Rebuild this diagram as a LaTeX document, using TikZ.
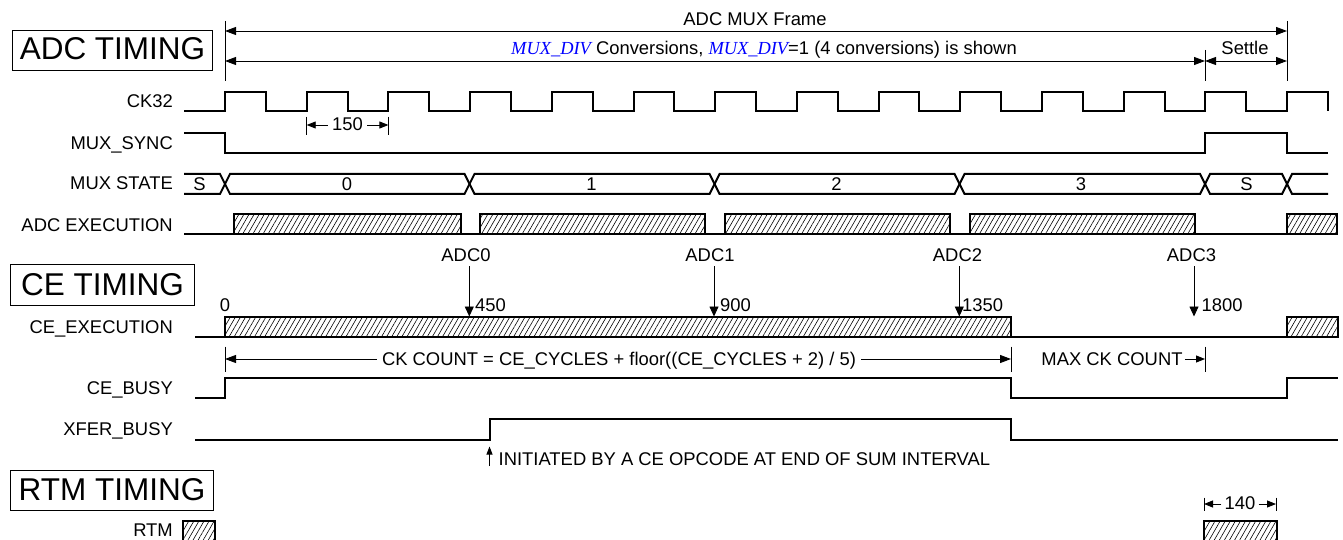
\documentclass[tikz,border=0pt]{standalone}
\usepackage{fontspec}
\setmainfont{Liberation Sans}
\newfontfamily\muxfont{Liberation Serif}
\usetikzlibrary{arrows.meta,patterns.meta}
\newcommand{\muxdiv}{{\muxfont\itshape\color{blue}MUX\_DIV}}
\begin{document}
\begin{tikzpicture}[x=1pt,y=-1pt,
  font=\fontsize{18.4}{21}\selectfont,
  sig/.style={line width=2pt,line join=miter},
  thinline/.style={line width=0.9pt},
  hatch/.style={sig,pattern={Lines[angle=60,distance=4.4pt,line width=0.6pt]}},
  lbl/.style={anchor=base east,inner sep=0pt},
  txt/.style={anchor=base,inner sep=0pt},
  bigtxt/.style={anchor=base,inner sep=0pt,font=\fontsize{31.5}{36}\selectfont},
  titlebox/.style={draw,line width=1pt},
  dimhead/.style={thinline,-{Triangle[length=11pt,width=8pt]}},
  smallhead/.style={thinline,-{Triangle[length=9pt,width=7pt]}},
  adcarrow/.style={thinline,-{Triangle[length=10pt,width=9pt]}},
]
\useasboundingbox (0,0) rectangle (1343,540);

% ---------------- titles
\draw[titlebox] (12,30.7) rectangle (212,71);
\node[bigtxt] (tadc) at (112.5,60) {ADC TIMING};
\draw[titlebox] (10.7,264.7) rectangle (194,305.7);
\node[bigtxt] (tce) at (102.5,295.5) {CE TIMING};
\draw[titlebox] (10.7,470) rectangle (213,510.7);
\node[bigtxt] (trtm) at (112,500) {RTM TIMING};

% ---------------- row labels
\node[lbl] (lck) at (173,108) {CK32};
\node[lbl] (lsync) at (173,149.5) {MUX\_SYNC};
\node[lbl] (lstate) at (173,189.5) {MUX STATE};
\node[lbl] (ladc) at (173,231) {ADC EXECUTION};
\node[lbl] (lce) at (173,333) {CE\_EXECUTION};
\node[lbl] (lbusy) at (173,394) {CE\_BUSY};
\node[lbl] (lxfer) at (173,435) {XFER\_BUSY};
\node[lbl] (lrtm) at (173,536.5) {RTM};

% ---------------- top dimensions
\coordinate (fa) at (225,21); \coordinate (fb) at (225,81);
\coordinate (ga) at (1287,21); \coordinate (gb) at (1287,81);
\coordinate (sa) at (1205,50); \coordinate (sb) at (1205,81);
\draw[thinline] (fa) -- (fb);
\draw[thinline] (ga) -- (gb);
\draw[thinline] (sa) -- (sb);
\coordinate (f1) at (225,31); \coordinate (g1) at (1287,31);
\coordinate (f2) at (225,61); \coordinate (s2) at (1205,61); \coordinate (g2) at (1287,61);
\draw[thinline,{Triangle[length=11pt,width=8pt]}-{Triangle[length=11pt,width=8pt]}] (f1) -- (g1);
\draw[thinline,{Triangle[length=11pt,width=8pt]}-{Triangle[length=11pt,width=8pt]}] (f2) -- (s2);
\draw[thinline,{Triangle[length=11pt,width=8pt]}-{Triangle[length=11pt,width=8pt]}] (s2) -- (g2);
\node[txt] (tframe) at (755,26) {ADC MUX Frame};
\node[txt] (tconv) at (764,55) {\muxdiv{} Conversions, \muxdiv=1 (4 conversions) is shown};
\node[txt] (tsettle) at (1245,55) {Settle};

% ---------------- CK32
\draw[sig] (184,111) \foreach \k in {0,...,13} {
  -- ({225+81.7*\k},111) -- ({225+81.7*\k},92) -- ({265.85+81.7*\k},92) -- ({265.85+81.7*\k},111) };

% 150 dimension
\coordinate (p1) at (306.7,125); \coordinate (p2) at (388.4,125);
\draw[thinline] (306.7,116.7) -- (306.7,135);
\draw[thinline] (388.4,116.7) -- (388.4,135);
\node[txt,inner xsep=4pt] (t150) at (347.5,131) {150};
\draw[smallhead] (t150.west |- p1) -- (p1);
\draw[smallhead] (t150.east |- p2) -- (p2);

% ---------------- MUX_SYNC
\draw[sig] (184,133) -- (225,133) -- (225,153) -- (1205,153) -- (1205,133) -- (1287,133) -- (1287,153) -- (1328,153);

% ---------------- MUX STATE bus
\draw[sig] (184,174) -- (220,174) -- (230,194) -- (464.5,194) -- (474.5,174) -- (709.5,174) -- (719.5,194) -- (954.5,194) -- (964.5,174) -- (1200,174) -- (1210,194) -- (1282,194) -- (1292,174) -- (1328,174);
\draw[sig] (184,194) -- (220,194) -- (230,174) -- (464.5,174) -- (474.5,194) -- (709.5,194) -- (719.5,174) -- (954.5,174) -- (964.5,194) -- (1200,194) -- (1210,174) -- (1282,174) -- (1292,194) -- (1328,194);
\node[txt] (bs0) at (199.5,190) {S};
\node[txt] (b0) at (347,190) {0};
\node[txt] (b1) at (591.5,190) {1};
\node[txt] (b2) at (836.5,190) {2};
\node[txt] (b3) at (1081,190) {3};
\node[txt] (bs1) at (1246.5,190) {S};

% ---------------- ADC EXECUTION
\draw[sig] (184,234) -- (1337,234);
\draw[hatch] (234.3,214.3) rectangle (460.5,234);
\draw[hatch] (479.5,214.3) rectangle (704.5,234);
\draw[hatch] (725,214.3) rectangle (950,234);
\draw[hatch] (969.5,214.3) rectangle (1195,234);
\draw[hatch] (1286.7,214.3) rectangle (1336.7,234);

% ---------------- ADC sample arrows
\node[txt] (a0) at (466,261) {ADC0};
\node[txt] (a1) at (710,261) {ADC1};
\node[txt] (a2) at (957.5,261) {ADC2};
\node[txt] (a3) at (1191.5,261) {ADC3};
\coordinate (a0t) at (469.3,316.5); \coordinate (a1t) at (714,316.5);
\coordinate (a2t) at (959.3,316.5); \coordinate (a3t) at (1194,316.5);
\draw[adcarrow] (a0t |- 0,266) -- (a0t);
\draw[adcarrow] (a1t |- 0,266) -- (a1t);
\draw[adcarrow] (a2t |- 0,266) -- (a2t);
\draw[adcarrow] (a3t |- 0,266) -- (a3t);
\node[anchor=base west,inner sep=0pt] (n450) at (475,311.5) {450};
\node[anchor=base west,inner sep=0pt] (n900) at (720,311.5) {900};
\node[anchor=base west,inner sep=0pt] (n1350) at (962,311.5) {1350};
\node[anchor=base west,inner sep=0pt] (n1800) at (1201.5,311.5) {1800};
\node[txt] (n0) at (225,311.5) {0};

% ---------------- CE_EXECUTION
\draw[sig] (195,336.7) -- (1337,336.7);
\draw[hatch] (225,316.7) rectangle (1011,336.7);
\draw[hatch] (1286.7,316.7) rectangle (1337.5,336.7);

% CK COUNT dimension
\coordinate (cl) at (225,359); \coordinate (cr) at (1011,359); \coordinate (cm) at (1205,359);
\draw[thinline] (225,346.5) -- (225,372);
\draw[thinline] (1011,346.5) -- (1011,372);
\draw[thinline] (1205,346.5) -- (1205,372);
\node[txt,inner xsep=5pt] (ckc) at (619,365) {CK COUNT = CE\_CYCLES + floor((CE\_CYCLES + 2) / 5)};
\draw[dimhead] (ckc.west |- cl) -- (cl);
\draw[dimhead] (ckc.east |- cr) -- (cr);
\node[txt,inner xsep=2pt] (mck) at (1112,365) {MAX CK COUNT};
\draw[smallhead] (mck.east |- cm) -- (cm);

% ---------------- CE_BUSY
\draw[sig] (195,398.3) -- (225,398.3) -- (225,377.7) -- (1011,377.7) -- (1011,398.3) -- (1286.7,398.3) -- (1286.7,377.7) -- (1337.5,377.7);

% ---------------- XFER_BUSY
\draw[sig] (195,439.5) -- (489.5,439.5) -- (489.5,419.3) -- (1011,419.3) -- (1011,439.5) -- (1337.5,439.5);
\coordinate (xi) at (489.5,446.5);
\draw[thinline,-{Triangle[length=8pt,width=6pt]}] (489.5,466) -- (xi);
\node[anchor=base west,inner sep=0pt] (tinit) at (498.5,465.5) {INITIATED BY A CE OPCODE AT END OF SUM INTERVAL};

% ---------------- RTM
\draw[hatch] (182.7,520.7) rectangle (215,541);
\draw[hatch] (1204,520.7) rectangle (1276.7,541);
\coordinate (q1) at (1204,504); \coordinate (q2) at (1276,504);
\draw[thinline] (1204,497.5) -- (1204,510.5);
\draw[thinline] (1276,497.5) -- (1276,510.5);
\node[txt,inner xsep=3pt] (t140) at (1240,509.5) {140};
\draw[smallhead] (t140.west |- q1) -- (q1);
\draw[smallhead] (t140.east |- q2) -- (q2);
\end{tikzpicture}
\end{document}
